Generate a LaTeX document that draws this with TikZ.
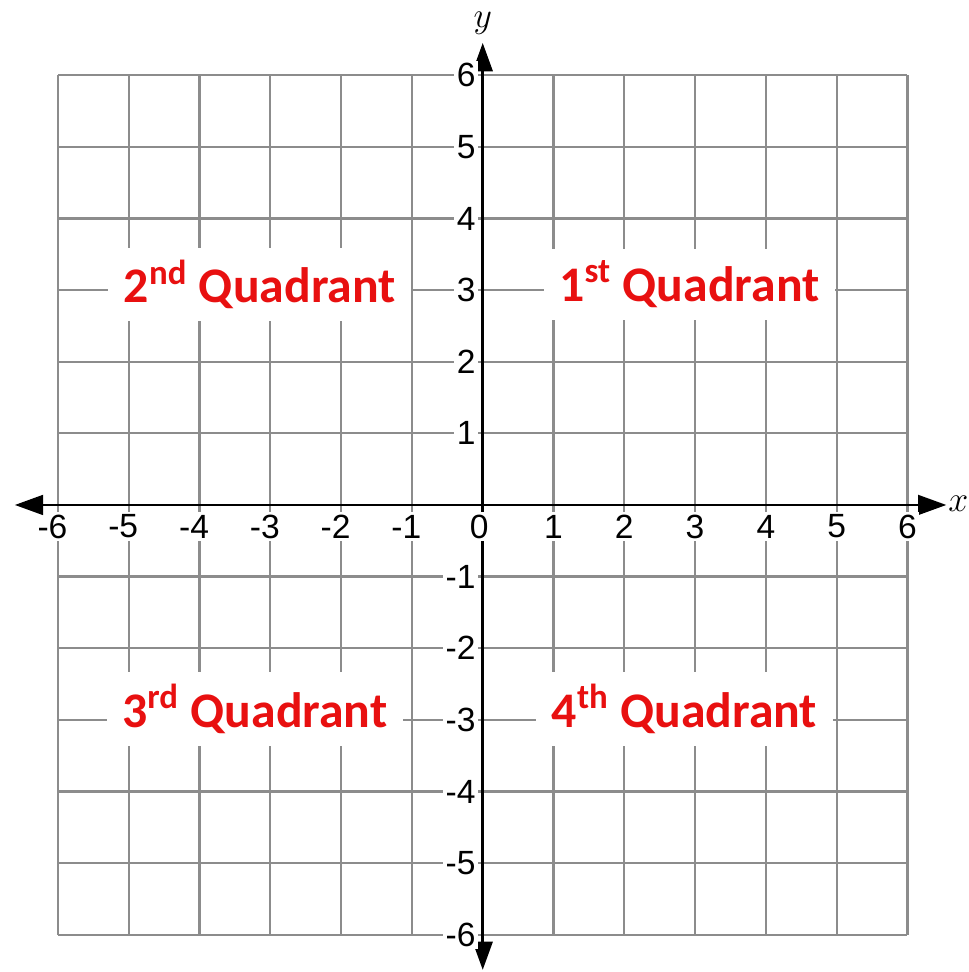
\documentclass[tikz,border=0pt]{standalone}
\usepackage{fontspec}
\newfontfamily\quadfont{Carlito}
\newfontfamily\numfont{Liberation Sans}
\usetikzlibrary{arrows.meta}
\definecolor{quadred}{RGB}{232,16,16}
\definecolor{gridgray}{RGB}{140,140,140}
\tikzset{axistip/.tip={Triangle[length=4mm,width=2.8mm]}}

\begin{document}
\begin{tikzpicture}[x=1cm,y=1.012cm,
  every node/.style={font=\numfont\fontsize{13.5}{15}\selectfont},
  ticklabel/.style={fill=white,inner sep=1pt},
  axisname/.style={inner sep=0pt,font=\fontsize{15}{17}\selectfont},
  quadlabel/.style={fill=white,text=quadred,inner xsep=0.22cm,inner ysep=0.17cm,
    font=\quadfont\bfseries\fontsize{20}{22}\selectfont}]
\useasboundingbox (-6.82,-6.52) rectangle (6.86,7.05);
% grid
\draw[gridgray,line width=0.9pt,xstep=1cm,ystep=1.012cm] (-6,-6) grid (6,6);
% quadrant labels
\node[quadlabel] (q2) at (-3.15,3.08) {2\textsuperscript{nd} Quadrant};
\node[quadlabel] (q1) at (2.92,3.08) {1\textsuperscript{st} Quadrant};
\node[quadlabel] (q3) at (-3.22,-2.85) {3\textsuperscript{rd} Quadrant};
\node[quadlabel] (q4) at (2.85,-2.85) {4\textsuperscript{th} Quadrant};
% axes
\coordinate (xleft) at (-6.61,0);
\coordinate (xright) at (6.55,0);
\coordinate (ybottom) at (0,-6.49);
\coordinate (ytop) at (0,6.45);
\draw[line width=1pt,axistip-axistip] (xleft) -- (xright);
\draw[line width=1pt,axistip-axistip] (ybottom) -- (ytop);
\node[axisname,anchor=west] (xname) at (6.57,0.02) {$x$};
\node[axisname] (yname) at (0,6.72) {$y$};
% tick labels
\node[ticklabel] (x0) at (-0.05,-0.3) {0};
\foreach \k in {1,...,6} {
  \node[ticklabel] (xp\k) at (\k,-0.3) {\k};
  \node[ticklabel] (xn\k) at (-\k,-0.3) {\llap{-}\k};
  \node[ticklabel,anchor=east] (yp\k) at (-0.06,\k) {\k};
  \node[ticklabel,anchor=east] (yn\k) at (-0.06,-\k) {-\k};
}
\end{tikzpicture}
\end{document}
